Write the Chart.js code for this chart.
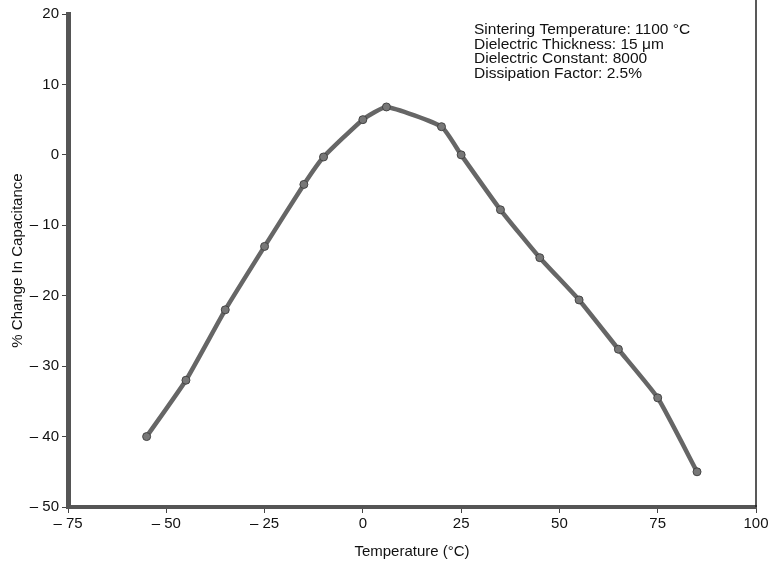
<!DOCTYPE html>
<html>
<head>
<meta charset="utf-8">
<script src="https://cdn.jsdelivr.net/npm/chart.js@4.4.1/dist/chart.umd.min.js"></script>
<style>
    html, body { margin: 0; padding: 0; background: #fff; }
    #wrap { width: 772px; height: 561px; }
</style>
</head>
<body>
<div id="wrap"><canvas id="capChart" width="772" height="561"></canvas></div>
<script>
// temperature (°C) and % change in capacitance
const temps = [-55, -45, -35, -25, -15, -10, 0, 6, 20, 25, 35, 45, 55, 65, 75, 85];
const capChange = [-40, -32, -22, -13, -4.2, -0.3, 5, 6.8, 4, 0, -7.8, -14.6, -20.6, -27.6, -34.5, -45];

const xTicks = [-75, -50, -25, 0, 25, 50, 75, 100];
const yTicks = [-50, -40, -30, -20, -10, 0, 10, 20];

const noteLines = [
    'Sintering Temperature: 1100 \u00B0C',
    'Dielectric Thickness: 15 \u03BCm',
    'Dielectric Constant: 8000',
    'Dissipation Factor: 2.5%'
];

const FONT = "'Liberation Sans', Arial, sans-serif";

function fmt(v) {
    return v < 0 ? '\u2013 ' + Math.abs(v) : String(v);
}

// right frame line + text block in the top right corner
const framePlugin = {
    id: 'frame',
    afterDraw(chart) {
        const c = chart.ctx;
        const a = chart.chartArea;
        c.save();
        c.strokeStyle = '#222';
        c.lineWidth = 1.5;
        c.beginPath();
        c.moveTo(a.right, 0);
        c.lineTo(a.right, a.bottom);
        c.stroke();

        c.fillStyle = '#111';
        c.font = '15.5px ' + FONT;
        c.textBaseline = 'middle';
        noteLines.forEach((t, i) => {
            c.fillText(t, 474, 30 + i * 14.6);
        });
        c.restore();
    }
};

const points = temps.map((t, i) => ({ x: t, y: capChange[i] }));

new Chart(document.getElementById('capChart'), {
    type: 'line',
    data: {
        datasets: [{
            data: points,
            borderColor: '#666',
            borderWidth: 4.5,
            tension: 0.15,
            pointRadius: 4,
            pointBackgroundColor: '#777',
            pointBorderColor: '#444',
            pointBorderWidth: 1
        }]
    },
    options: {
        responsive: false,
        animation: false,
        layout: { padding: { left: 0, right: 16, top: 14, bottom: 0 } },
        plugins: {
            legend: { display: false },
            tooltip: { enabled: false }
        },
        scales: {
            x: {
                type: 'linear',
                min: -75,
                max: 100,
                afterBuildTicks(scale) {
                    scale.ticks = xTicks.map(v => ({ value: v }));
                },
                afterFit(scale) { scale.height = 54; },
                border: { display: true, color: '#555', width: 4 },
                grid: { drawOnChartArea: false, drawTicks: true, tickLength: 6, color: '#444', lineWidth: 1 },
                ticks: {
                    color: '#111',
                    font: { size: 15, family: FONT },
                    padding: 2,
                    maxRotation: 0,
                    callback: v => fmt(v)
                },
                title: {
                    display: true,
                    text: 'Temperature (\u00B0C)',
                    color: '#111',
                    font: { size: 15, family: FONT },
                    padding: { top: 0, bottom: 0 }
                }
            },
            y: {
                min: -50,
                max: 20,
                afterBuildTicks(scale) {
                    scale.ticks = yTicks.map(v => ({ value: v }));
                },
                afterFit(scale) { scale.width = 68; },
                border: { display: true, color: '#555', width: 5 },
                grid: { drawOnChartArea: false, drawTicks: true, tickLength: 6, color: '#444', lineWidth: 1 },
                ticks: {
                    color: '#111',
                    font: { size: 15, family: FONT },
                    padding: 3,
                    callback: v => fmt(v)
                },
                title: {
                    display: true,
                    text: '% Change In Capacitance',
                    color: '#111',
                    font: { size: 15, family: FONT },
                    padding: { top: 9, bottom: 0 }
                }
            }
        }
    },
    plugins: [framePlugin]
});
</script>
</body>
</html>
